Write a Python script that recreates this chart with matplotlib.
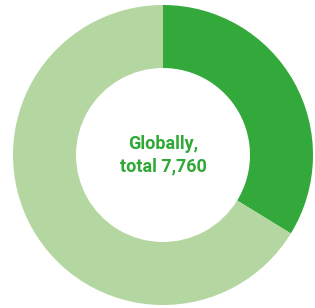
import matplotlib.pyplot as plt

labels = ["Share A", "Share B"]
values = [2620, 5140]
colors = ["#34a93b", "#b4d7a2"]
total = 7760

fig = plt.figure(figsize=(3.15, 3.08), dpi=100)
ax = fig.add_axes([13 / 315, 3 / 308, 300 / 315, 300 / 308])
ax.pie(values, colors=colors, startangle=90, counterclock=False,
       wedgeprops=dict(width=0.42, edgecolor="none"))
ax.set_xlim(-1, 1)
ax.set_ylim(-1, 1)
ax.set_aspect("equal")
ax.text(0, 0, "Globally,\ntotal {:,}".format(total), ha="center", va="center",
        fontsize=13, fontweight="bold", color="#2fa836", family="Roboto",
        linespacing=1.35)
fig.savefig("out.png", dpi=100)
